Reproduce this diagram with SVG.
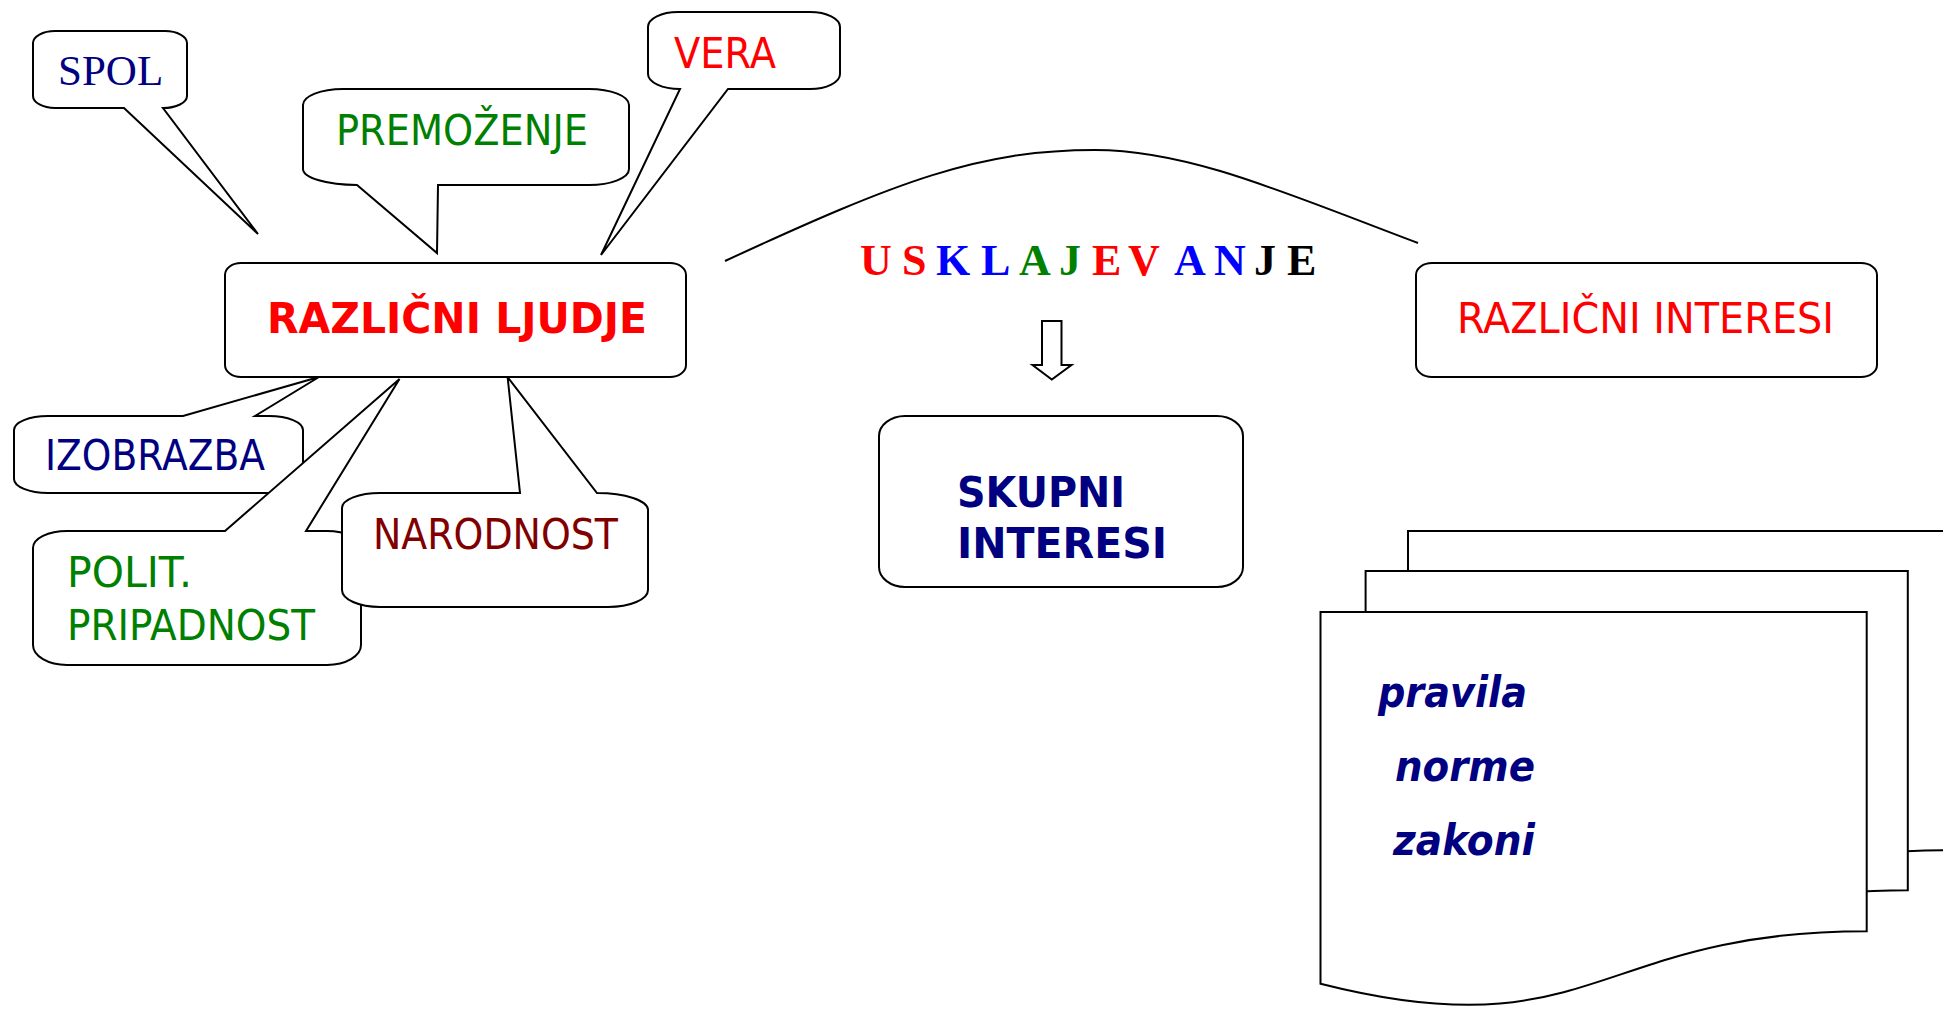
<svg xmlns="http://www.w3.org/2000/svg" width="1943" height="1010" viewBox="0 0 1943 1010">
<style>
.shape{fill:#fff;stroke:#000;stroke-width:2;stroke-linejoin:miter}
.line{fill:none;stroke:#000;stroke-width:2}
.t{font-family:"DejaVu Sans","Verdana",sans-serif;font-size:42px}
.b{font-weight:bold}
.serif{font-family:"Liberation Serif","Times New Roman",serif}
.navy{fill:#000080}.red{fill:#FF0000}.green{fill:#008000}.blue{fill:#0000FF}.dred{fill:#800000}.black{fill:#000}
</style>
<rect width="1943" height="1010" fill="#fff"/>

<g id="connectors">
  <path class="line" d="M725,261 C900,180 980,150 1095,150 C1190,150 1290,195 1418,243"/>
  <polygon class="shape" stroke-width="1.5" points="1042,321 1061.5,321 1061.5,365 1071.5,365 1051.8,379.6 1032.5,365 1042,365"/>
</g>

<g id="usklajevanje">
  <text class="serif b" font-size="44" y="275"><tspan class="red" x="860">U</tspan><tspan class="red" x="902">S</tspan><tspan class="blue" x="936">K</tspan><tspan class="blue" x="981">L</tspan><tspan class="green" x="1019">A</tspan><tspan class="green" x="1059">J</tspan><tspan class="red" x="1092">E</tspan><tspan class="red" x="1128">V</tspan><tspan class="blue" x="1174">A</tspan><tspan class="blue" x="1214">N</tspan><tspan class="black" x="1254">J</tspan><tspan class="black" x="1287">E</tspan></text>
</g>

<g id="spol">
  <path class="shape" d="M55,31 H165 A22,12 0 0 1 187,43 V96 A24,12 0 0 1 163,108 L258,234 L124,108 H55 A22,12 0 0 1 33,96 V43 A22,12 0 0 1 55,31 Z"/>
  <text class="serif navy" font-size="43" x="58" y="85">SPOL</text>
</g>

<g id="premozenje">
  <path class="shape" d="M343,89 H589 A40,16 0 0 1 629,105 V169 A40,16 0 0 1 589,185 H438 L437,253 L357,185 A54,16 0 0 1 303,169 V105 A40,16 0 0 1 343,89 Z"/>
  <text class="t green" x="336" y="145" textLength="252" lengthAdjust="spacingAndGlyphs">PREMOŽENJE</text>
</g>

<g id="vera">
  <path class="shape" d="M678,12 H810 A30,15 0 0 1 840,27 V74 A30,15 0 0 1 810,89 H728 L601,255 L680,89 A32,15 0 0 1 648,74 V27 A30,15 0 0 1 678,12 Z"/>
  <text class="t red" x="674" y="68" textLength="102" lengthAdjust="spacingAndGlyphs">VERA</text>
</g>

<g id="izobrazba">
  <path class="shape" d="M48,416 H183 L319,377 L255,416 H269 A34,14 0 0 1 303,430 V479 A34,14 0 0 1 269,493 H48 A34,14 0 0 1 14,479 V430 A34,14 0 0 1 48,416 Z"/>
  <text class="t navy" x="45" y="470" textLength="220" lengthAdjust="spacingAndGlyphs">IZOBRAZBA</text>
</g>

<g id="polit">
  <path class="shape" d="M67,531 H225 L399.5,379 L306,531 H327 A34,17 0 0 1 361,548 V645 A34,20 0 0 1 327,665 H67 A34,20 0 0 1 33,645 V548 A34,17 0 0 1 67,531 Z"/>
  <text class="t green" x="67" y="587" textLength="125" lengthAdjust="spacingAndGlyphs">POLIT.</text>
  <text class="t green" x="67" y="640" textLength="248" lengthAdjust="spacingAndGlyphs">PRIPADNOST</text>
</g>

<g id="narodnost">
  <path class="shape" d="M380,493 H520 L507.6,377 L597,493 A51,17 0 0 1 648,510 V590 A40,17 0 0 1 608,607 H380 A38,17 0 0 1 342,590 V508 A38,15 0 0 1 380,493 Z"/>
  <text class="t dred" x="373" y="549" textLength="245" lengthAdjust="spacingAndGlyphs">NARODNOST</text>
</g>

<g id="razlicni-ljudje">
  <rect class="shape" x="225" y="263" width="461" height="114" rx="16" ry="12"/>
  <text class="t b red" font-size="44" x="267" y="333" textLength="380" lengthAdjust="spacingAndGlyphs">RAZLIČNI LJUDJE</text>
</g>

<g id="razlicni-interesi">
  <rect class="shape" x="1416" y="263" width="461" height="114" rx="16" ry="12"/>
  <text class="t red" x="1457" y="333" textLength="377" lengthAdjust="spacingAndGlyphs">RAZLIČNI INTERESI</text>
</g>

<g id="skupni-interesi">
  <rect class="shape" x="879" y="416" width="364" height="171" rx="26" ry="20"/>
  <text class="t b navy" x="957" y="507" textLength="168" lengthAdjust="spacingAndGlyphs">SKUPNI</text>
  <text class="t b navy" x="957" y="558" textLength="210" lengthAdjust="spacingAndGlyphs">INTERESI</text>
</g>

<g id="dokumenti">
  <path class="shape" d="M1408,531 H1950 V850.2 C1679,850.2 1679,971.8 1408,902.7 Z"/>
  <path class="shape" d="M1365.6,571 H1907.8 V890.2 C1636.7,890.2 1636.7,1011.8 1365.6,942.7 Z"/>
  <path class="shape" d="M1320.5,612 H1866.7 V931.2 C1593.6,931.2 1593.6,1052.8 1320.5,983.7 Z"/>
  <text class="t b navy" font-style="italic" x="1378" y="707" textLength="149" lengthAdjust="spacingAndGlyphs">pravila</text>
  <text class="t b navy" font-style="italic" x="1395" y="781" textLength="140" lengthAdjust="spacingAndGlyphs">norme</text>
  <text class="t b navy" font-style="italic" x="1393" y="855" textLength="142" lengthAdjust="spacingAndGlyphs">zakoni</text>
</g>
</svg>
